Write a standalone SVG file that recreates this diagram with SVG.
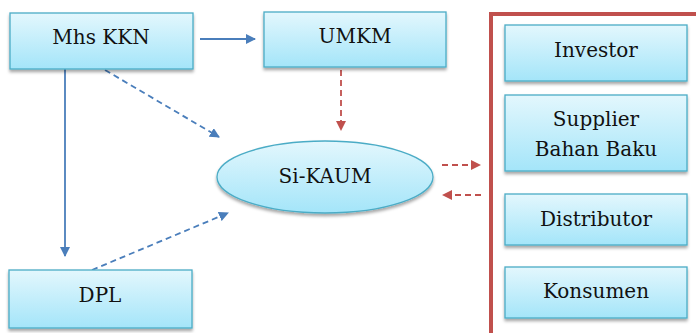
<svg xmlns="http://www.w3.org/2000/svg" width="696" height="333" viewBox="0 0 696 333">
<defs>
<linearGradient id="g" x1="0" y1="0" x2="0" y2="1">
<stop offset="0" stop-color="#e3f7fd"/>
<stop offset="1" stop-color="#a4e5f9"/>
</linearGradient>
<filter id="sh" x="-10%" y="-20%" width="120%" height="150%">
<feDropShadow dx="0" dy="2.5" stdDeviation="1.8" flood-color="#000" flood-opacity="0.35"/>
</filter>
<marker id="ab" viewBox="0 0 10 10" refX="9" refY="5" markerWidth="10" markerHeight="10" markerUnits="userSpaceOnUse" orient="auto">
<path d="M0,0 L10,5 L0,10 z" fill="#4a7ebb"/>
</marker>
<marker id="ar" viewBox="0 0 10 10" refX="9" refY="5" markerWidth="10" markerHeight="10" markerUnits="userSpaceOnUse" orient="auto">
<path d="M0,0 L10,5 L0,10 z" fill="#c0504d"/>
</marker>
</defs>
<style>
.box{fill:url(#g);stroke:#4bacc6;stroke-width:1.3;filter:url(#sh)}
.t{font-family:'DejaVu Serif',serif;font-size:20px;fill:#111;text-anchor:middle}
.b{stroke:#4a7ebb;stroke-width:1.8;fill:none}
.r{stroke:#c0504d;stroke-width:1.8;fill:none;stroke-dasharray:6 4}
.bd{stroke-dasharray:6 4}
</style>
<rect width="696" height="333" fill="#fff"/>
<path d="M491,333 L491,14 L700,14" fill="none" stroke="#c0504d" stroke-width="4"/>
<g id="connectors">
<line class="b" x1="200" y1="39" x2="255" y2="39" marker-end="url(#ab)"/>
<line class="b" x1="65" y1="69" x2="65" y2="256" marker-end="url(#ab)"/>
<line class="b bd" x1="105" y1="70" x2="219" y2="137" marker-end="url(#ab)"/>
<line class="b bd" x1="92" y1="270" x2="228" y2="213" marker-end="url(#ab)"/>
<line class="r" x1="341" y1="70" x2="341" y2="130" marker-end="url(#ar)"/>
<line class="r" x1="442" y1="165" x2="480" y2="165" marker-end="url(#ar)"/>
<line class="r" x1="481" y1="195" x2="443" y2="195" marker-end="url(#ar)"/>
</g>
<g id="mhs"><rect class="box" x="10" y="13" width="183" height="56"/><text class="t" x="101" y="44">Mhs KKN</text></g>
<g id="umkm"><rect class="box" x="264" y="12" width="182" height="55"/><text class="t" x="355" y="43">UMKM</text></g>
<g id="dpl"><rect class="box" x="9" y="270" width="183" height="58"/><text class="t" x="100" y="302">DPL</text></g>
<g id="sikaum"><ellipse class="box" cx="325" cy="177" rx="108" ry="36"/><text class="t" x="325" y="183">Si-KAUM</text></g>
<g id="investor"><rect class="box" x="505" y="25" width="182" height="56"/><text class="t" x="596" y="57">Investor</text></g>
<g id="supplier"><rect class="box" x="505" y="95" width="182" height="76"/><text class="t" x="596" y="126">Supplier</text><text class="t" x="596" y="156">Bahan Baku</text></g>
<g id="distributor"><rect class="box" x="505" y="194" width="182" height="51"/><text class="t" x="596" y="226">Distributor</text></g>
<g id="konsumen"><rect class="box" x="505" y="267" width="182" height="51"/><text class="t" x="596" y="298">Konsumen</text></g>
</svg>
